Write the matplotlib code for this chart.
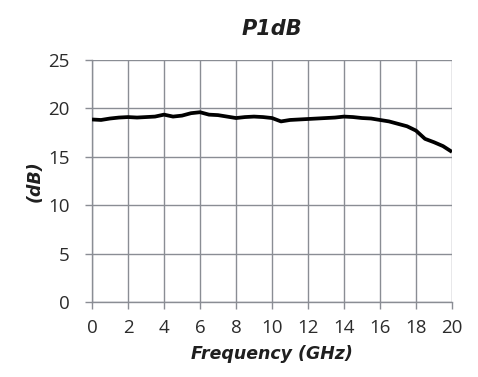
import matplotlib
matplotlib.use("Agg")
import matplotlib.pyplot as plt

plt.rcParams["font.family"] = ["Open Sans", "DejaVu Sans"]

freq = [0, 0.5, 1, 1.5, 2, 2.5, 3, 3.5, 4, 4.5, 5, 5.5, 6, 6.5, 7, 7.5, 8, 8.5, 9, 9.5,
        10, 10.5, 11, 11.5, 12, 12.5, 13, 13.5, 14, 14.5, 15, 15.5, 16, 16.5, 17, 17.5,
        18, 18.5, 19, 19.5, 20]
p1db = [18.85, 18.8, 18.95, 19.05, 19.1, 19.05, 19.1, 19.15, 19.35, 19.15, 19.25, 19.5, 19.6, 19.35, 19.3,
        19.15, 19.0, 19.1, 19.15, 19.1, 19.0, 18.65, 18.8, 18.85, 18.9, 18.95, 19.0, 19.05, 19.15,
        19.1, 19.0, 18.95, 18.8, 18.65, 18.4, 18.15, 17.7, 16.85, 16.5, 16.1, 15.5]

xticks = list(range(0, 21, 2))
yticks = [0, 5, 10, 15, 20, 25]

fig = plt.figure(figsize=(4.78, 3.77), dpi=100)
ax = fig.add_axes([0.1925, 0.199, 0.7531, 0.642])
ax.plot(freq, p1db, color="black", lw=2.7, solid_capstyle="butt", solid_joinstyle="round", zorder=3)
ax.set_xlim(0, 20)
ax.set_ylim(0, 25)
ax.set_xticks(xticks)
ax.set_yticks(yticks)
ax.grid(True, color="#8a8d94", lw=1.0)
for s in ["top", "right"]:
    ax.spines[s].set_visible(False)
for s in ["left", "bottom"]:
    ax.spines[s].set_color("#8a8d94")
    ax.spines[s].set_linewidth(1.0)
ax.tick_params(axis="both", color="#8a8d94", length=5, width=1.0, labelsize=13.5,
               labelcolor="#2b2b2b", direction="out")
ax.tick_params(axis="x", pad=7)
ax.tick_params(axis="y", pad=11)

lab_font = ["DejaVu Sans"]
ax.set_title("P1dB", fontsize=15, fontweight="bold", fontstyle="italic", family=lab_font,
             color="#1f1f1f", pad=18)
ax.set_xlabel("Frequency (GHz)", fontsize=12.5, fontweight="bold", fontstyle="italic",
              family=lab_font, color="#1f1f1f", labelpad=6)
ax.set_ylabel("(dB)", fontsize=12.5, fontweight="bold", fontstyle="italic",
              family=lab_font, color="#1f1f1f", labelpad=3)
fig.savefig("out.png", dpi=100)
